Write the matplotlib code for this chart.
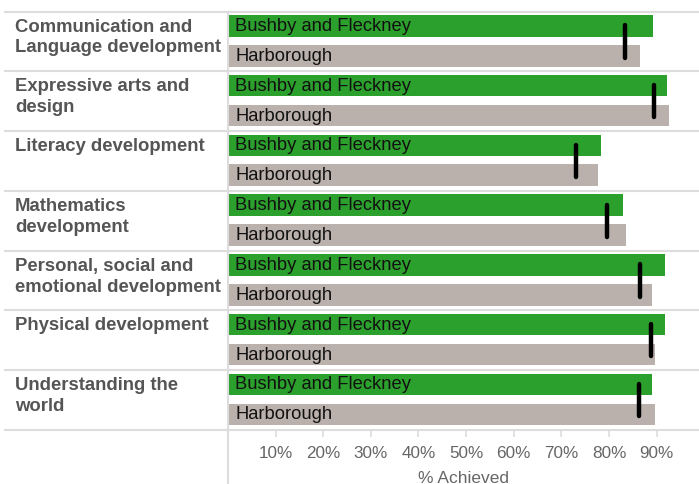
import matplotlib
matplotlib.use("Agg")
import matplotlib.pyplot as plt
from matplotlib.lines import Line2D
from matplotlib import transforms

plt.rcParams['font.family'] = ['Liberation Sans', 'DejaVu Sans']

categories = [
    "Communication and\nLanguage development",
    "Expressive arts and\ndesign",
    "Literacy development",
    "Mathematics\ndevelopment",
    "Personal, social and\nemotional development",
    "Physical development",
    "Understanding the\nworld",
]
series_names = ["Bushby and Fleckney", "Harborough"]
bushby = [89.2, 92.1, 78.3, 82.9, 91.7, 91.7, 89.1]
harborough = [86.5, 92.6, 77.7, 83.5, 89.1, 89.6, 89.6]
england = [83.4, 89.4, 73.1, 79.5, 86.5, 88.9, 86.4]
xticks = [10, 20, 30, 40, 50, 60, 70, 80, 90]
xticklabels = ["10%", "20%", "30%", "40%", "50%", "60%", "70%", "80%", "90%"]

W, H = 699, 484
fig = plt.figure(figsize=(W / 100, H / 100), dpi=100)
left = 228 / W
top_px, bot_px = 11.7, 430
ax = fig.add_axes([left, 1 - bot_px / H, 1 - left, (bot_px - top_px) / H])

n = len(categories)
ax.set_xlim(0, 98.9)
ax.set_ylim(n, 0)

green = "#2ca02c"
grey = "#bab0ac"
bh = 0.363
off1 = 0.055
off2 = 0.557
for i in range(n):
    ax.barh(i + off1 + bh / 2, bushby[i], height=bh, color=green, zorder=2)
    ax.barh(i + off2 + bh / 2, harborough[i], height=bh, color=grey, zorder=2)
    ax.text(1.47, i + off1 + bh / 2 + 0.01, series_names[0], va="center", ha="left",
            fontsize=13.2, color="#111111", zorder=3)
    ax.text(1.47, i + off2 + bh / 2 + 0.01, series_names[1], va="center", ha="left",
            fontsize=13.2, color="#111111", zorder=3)
    ax.plot([england[i], england[i]], [i + 0.23, i + 0.77], color="black",
            lw=3.2, solid_capstyle="round", zorder=4)

# row separator lines across figure
gridc = "#dddddd"
tr = transforms.blended_transform_factory(fig.transFigure, ax.transData)
for k in range(n + 1):
    fig.add_artist(Line2D([5 / W, 1], [k, k], transform=tr, color=gridc,
                          lw=1.5, zorder=1))

# category labels
for i, c in enumerate(categories):
    fig.text(15 / W, i + 0.115, c, transform=tr, ha="left", va="top",
             fontsize=13.3, fontweight="bold", color="#555555", linespacing=1.3)

# vertical axis line extending to bottom
fig.add_artist(Line2D([left, left], [0, 1 - top_px / H], transform=fig.transFigure,
                      color=gridc, lw=1.5, zorder=1))

for s in ax.spines.values():
    s.set_visible(False)
ax.set_yticks([])
ax.set_xticks(xticks)
ax.set_xticklabels(xticklabels)
ax.tick_params(axis="x", length=5, width=1.2, color=gridc, labelsize=12.3,
               labelcolor="#666666", pad=6.5)
ax.set_xlabel("% Achieved", fontsize=12.5, color="#666666", labelpad=7.5)

fig.savefig("out.png", dpi=100)
